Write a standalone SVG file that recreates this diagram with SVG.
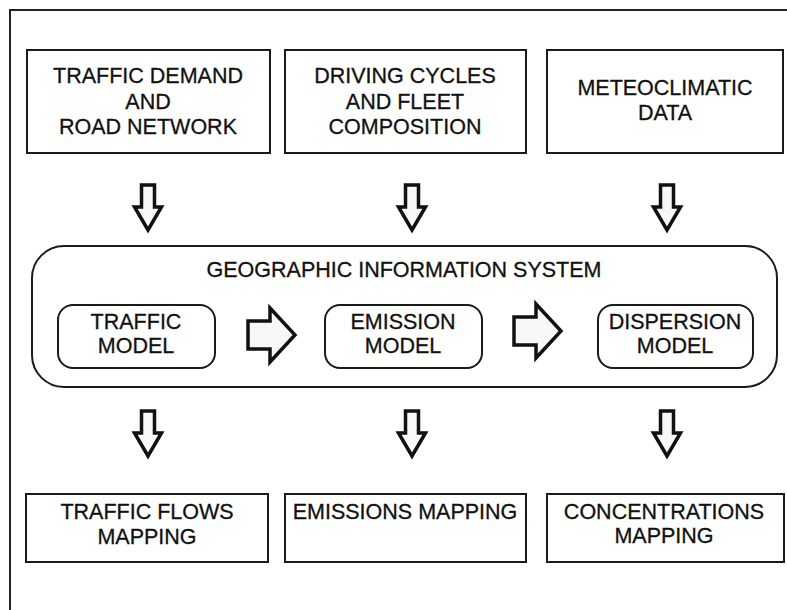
<svg xmlns="http://www.w3.org/2000/svg" width="787" height="610" viewBox="0 0 787 610">
<defs>
<style>
.box{fill:#fff;stroke:#1a1a1a;stroke-width:2}
.rbox{fill:#fff;stroke:#1a1a1a;stroke-width:2}
.arr{fill:#f7f7f7;stroke:#111;stroke-width:3.5;stroke-linejoin:miter}
text{font-family:"Liberation Sans",Arial,sans-serif;font-size:21.5px;fill:#111;stroke:#111;stroke-width:0.3;text-anchor:middle}
</style>
<path id="down" class="arr" d="M-6.5,0 H6.5 V22 H13.5 L0,45 L-13.5,22 H-6.5 Z"/>
<path id="right" class="arr" d="M0,-14 H22 V-27 L47,0 L22,27 V14 H0 Z"/>
</defs>
<rect width="787" height="610" fill="#fff"/>
<path d="M10,610 V10 H787" fill="none" stroke="#222" stroke-width="2"/>

<g id="traffic-demand">
<rect class="box" x="27" y="50" width="243" height="103"/>
<text x="148" y="83">TRAFFIC DEMAND</text>
<text x="148" y="109">AND</text>
<text x="148" y="134">ROAD NETWORK</text>
</g>
<g id="driving-cycles">
<rect class="box" x="285" y="50" width="241" height="103"/>
<text x="405" y="83">DRIVING CYCLES</text>
<text x="405" y="109">AND FLEET</text>
<text x="405" y="134">COMPOSITION</text>
</g>
<g id="meteoclimatic">
<rect class="box" x="547" y="50" width="236" height="103"/>
<text x="665" y="95">METEOCLIMATIC</text>
<text x="665" y="120">DATA</text>
</g>

<g id="gis">
<rect class="rbox" x="32" y="246" width="745" height="141" rx="32" ry="32"/>
<text x="404" y="277">GEOGRAPHIC INFORMATION SYSTEM</text>
</g>
<g id="traffic-model">
<rect class="rbox" x="58" y="305" width="157" height="63" rx="15" ry="15"/>
<text x="136" y="329">TRAFFIC</text>
<text x="136" y="353">MODEL</text>
</g>
<g id="emission-model">
<rect class="rbox" x="325" y="305" width="157" height="63" rx="15" ry="15"/>
<text x="403" y="329">EMISSION</text>
<text x="403" y="353">MODEL</text>
</g>
<g id="dispersion-model">
<rect class="rbox" x="598" y="305" width="155" height="63" rx="15" ry="15"/>
<text x="675" y="329">DISPERSION</text>
<text x="675" y="353">MODEL</text>
</g>

<g id="traffic-flows">
<rect class="box" x="26" y="494" width="242" height="68"/>
<text x="147" y="519">TRAFFIC FLOWS</text>
<text x="147" y="544">MAPPING</text>
</g>
<g id="emissions-mapping">
<rect class="box" x="285" y="494" width="241" height="68"/>
<text x="405" y="519">EMISSIONS MAPPING</text>
</g>
<g id="concentrations-mapping">
<rect class="box" x="547" y="494" width="237" height="68"/>
<text x="664" y="519">CONCENTRATIONS</text>
<text x="664" y="543">MAPPING</text>
</g>

<g id="connectors">
<use href="#down" x="148" y="185"/>
<use href="#down" x="412" y="185"/>
<use href="#down" x="667" y="185"/>
<use href="#right" x="248" y="335"/>
<use href="#right" x="514" y="331"/>
<use href="#down" x="148" y="411"/>
<use href="#down" x="412" y="411"/>
<use href="#down" x="667" y="411"/>
</g>
</svg>
